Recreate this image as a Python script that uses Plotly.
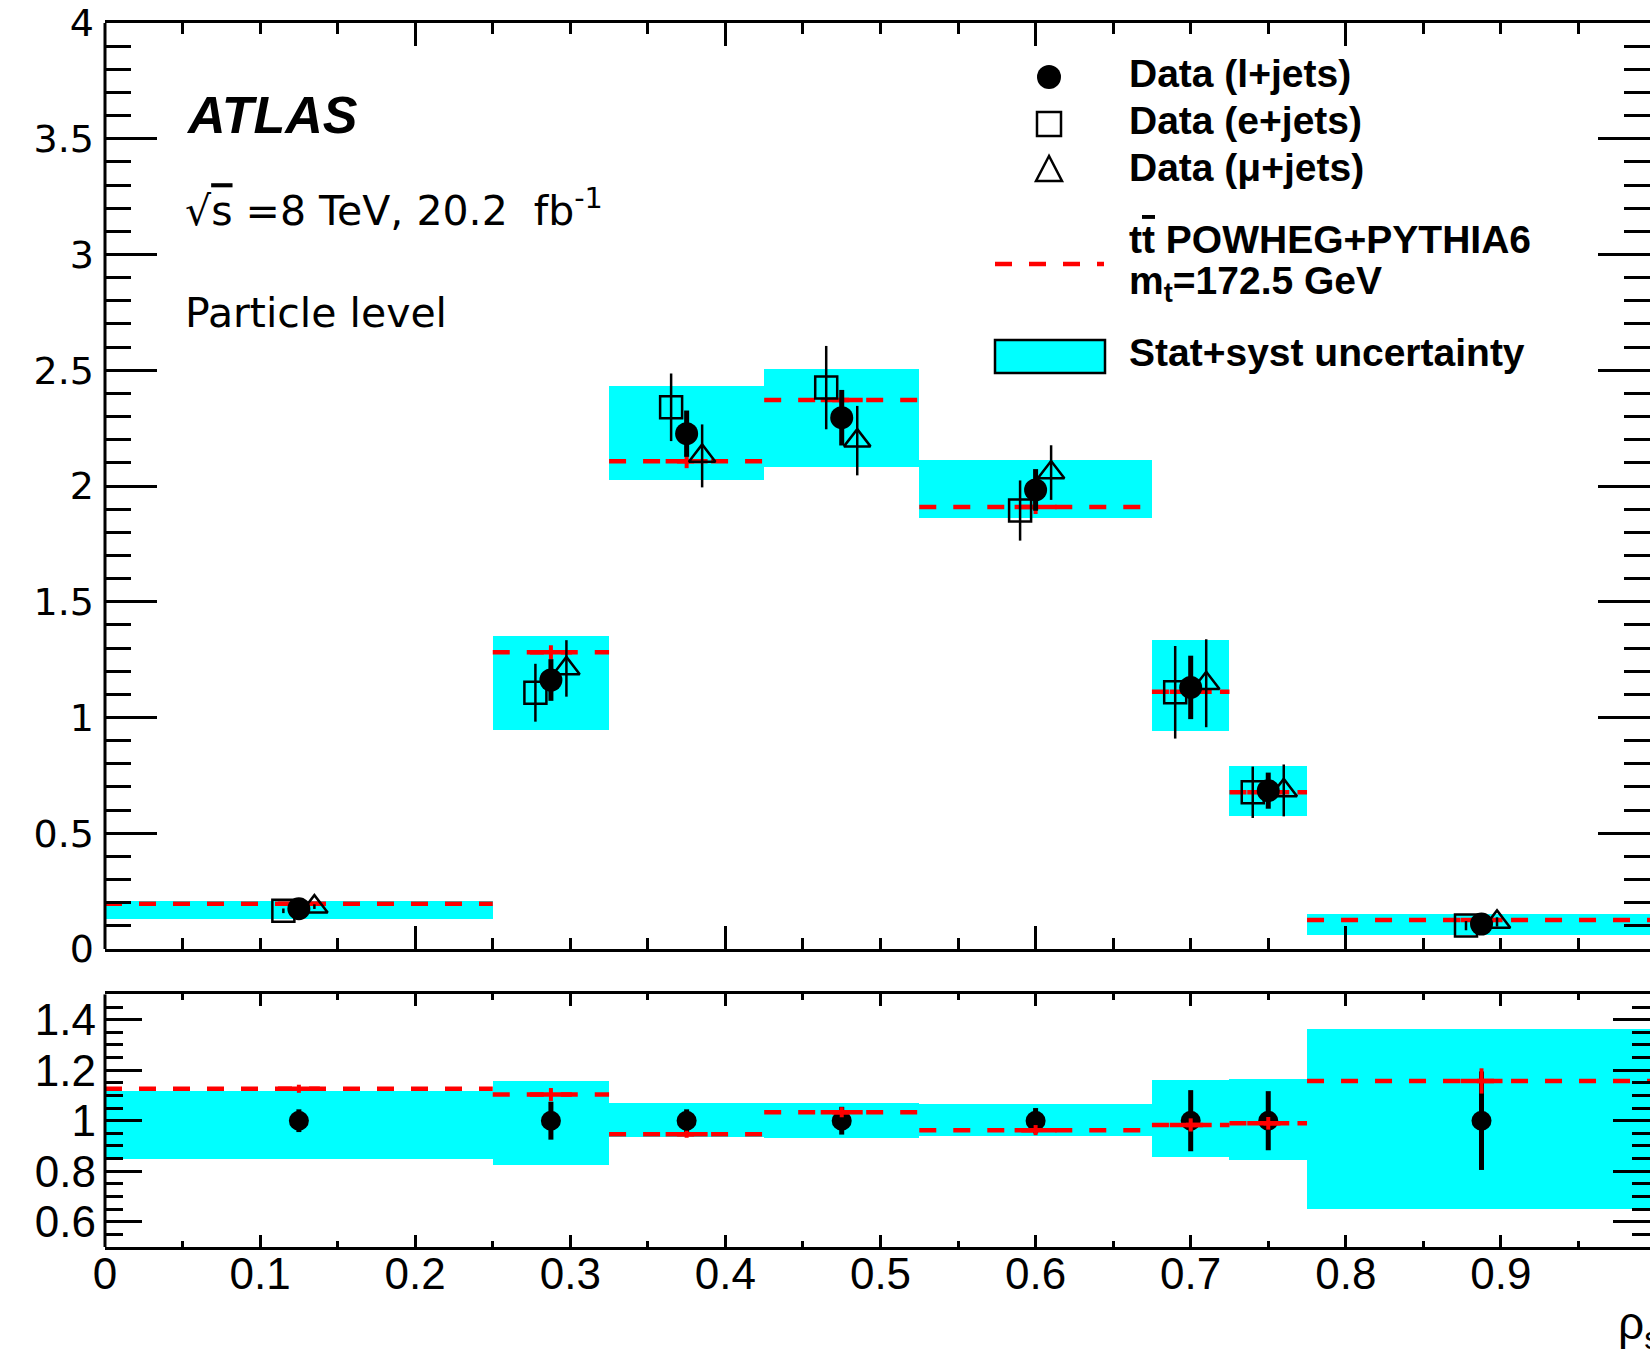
import plotly.graph_objects as go

# ---- binning in rho_s ----
bin_edges = [0.0, 0.25, 0.325, 0.425, 0.525, 0.675, 0.725, 0.775, 1.0]

# ---- normalised cross-section, particle level ----
ljets = [0.174, 1.162, 2.226, 2.295, 1.983, 1.130, 0.684, 0.108]
ljets_err = [0.010, 0.090, 0.100, 0.120, 0.090, 0.137, 0.078, 0.020]
ejets = [0.165, 1.107, 2.340, 2.425, 1.894, 1.109, 0.677, 0.101]
ejets_err = [0.010, 0.125, 0.146, 0.180, 0.130, 0.200, 0.111, 0.020]
mujets = [0.183, 1.212, 2.130, 2.196, 2.058, 1.148, 0.685, 0.117]
mujets_err = [0.010, 0.122, 0.136, 0.150, 0.118, 0.190, 0.112, 0.020]
powheg = [0.196, 1.282, 2.107, 2.372, 1.909, 1.111, 0.677, 0.125]
powheg_err = [0.003, 0.030, 0.030, 0.030, 0.030, 0.020, 0.010, 0.005]
band_lo = [0.130, 0.946, 2.025, 2.084, 1.862, 0.942, 0.576, 0.062]
band_hi = [0.209, 1.352, 2.430, 2.507, 2.112, 1.335, 0.792, 0.152]

# ---- ratio panel (prediction / data) ----
ratio_err = [0.045, 0.075, 0.045, 0.055, 0.050, 0.121, 0.117, 0.195]
ratio_powheg_err = [0.016, 0.026, 0.014, 0.020, 0.020, 0.026, 0.025, 0.050]
ratio_band_lo = [0.845, 0.822, 0.933, 0.929, 0.937, 0.855, 0.841, 0.647]
ratio_band_hi = [1.116, 1.154, 1.067, 1.068, 1.063, 1.158, 1.163, 1.362]

channel_shift = 0.01

top_ticks = [0, 0.5, 1, 1.5, 2, 2.5, 3, 3.5, 4]
ratio_ticks = [0.6, 0.8, 1.0, 1.2, 1.4]
ratio_ticktext = ["0.6", "0.8", "1", "1.2", "1.4"]

# ---- derived quantities ----
centers = [(a + b) / 2 for a, b in zip(bin_edges[:-1], bin_edges[1:])]
widths = [b - a for a, b in zip(bin_edges[:-1], bin_edges[1:])]
x_e = [c - channel_shift for c in centers]
x_mu = [c + channel_shift for c in centers]
ratio_data = [v / v for v in ljets]
ratio_powheg = [m / d for m, d in zip(powheg, ljets)]


def step_segments(values):
    xs, ys = [], []
    for a, b, v in zip(bin_edges[:-1], bin_edges[1:], values):
        xs += [a, b, None]
        ys += [v, v, None]
    return xs, ys


# ---- page geometry ----
W, H = 1650, 1361
ML, MR, MT, MB = 105, 0, 23, 114
PW, PH = W - ML - MR, H - MT - MB
X_MAX = PW / 1551.0
TOP_DOMAIN = [(H - MB - 949) / PH, 1.0]
BOT_DOMAIN = [0.0, (H - MB - 994.4) / PH]


def fx(px):
    return (px - ML) / PW


def fy(py):
    return (H - MB - py) / PH


CYAN = "#00FFFF"
RED = "#FF0000"
SANS = "Liberation Sans, Arial, sans-serif"
WIDE = "DejaVu Sans, sans-serif"
DASH = "17px,17px"

fig = go.Figure()

# ---------------- upper panel ----------------
fig.add_trace(go.Bar(
    x=centers, y=[h - l for h, l in zip(band_hi, band_lo)], base=band_lo,
    width=widths, marker=dict(color=CYAN, line=dict(width=0)),
    xaxis="x", yaxis="y"))

mx, my = step_segments(powheg)
fig.add_trace(go.Scatter(
    x=mx, y=my, mode="lines", line=dict(color=RED, width=4.5, dash=DASH),
    connectgaps=False, xaxis="x", yaxis="y"))
fig.add_trace(go.Scatter(
    x=centers, y=powheg, mode="markers",
    marker=dict(symbol="line-ew", size=30, color=RED, line=dict(width=4.5, color=RED)),
    error_y=dict(type="data", array=powheg_err, thickness=4, width=0, color=RED),
    xaxis="x", yaxis="y"))

fig.add_trace(go.Scatter(
    x=x_e, y=ejets, mode="markers",
    marker=dict(symbol="square-open", size=22, color="black", line=dict(width=2.5)),
    error_y=dict(type="data", array=ejets_err, thickness=2.5, width=0, color="black"),
    xaxis="x", yaxis="y"))
fig.add_trace(go.Scatter(
    x=x_mu, y=mujets, mode="markers",
    marker=dict(symbol="triangle-up-open", size=23, color="black", line=dict(width=2.5)),
    error_y=dict(type="data", array=mujets_err, thickness=2.5, width=0, color="black"),
    xaxis="x", yaxis="y"))
fig.add_trace(go.Scatter(
    x=centers, y=ljets, mode="markers",
    marker=dict(symbol="circle", size=23, color="black"),
    error_y=dict(type="data", array=ljets_err, thickness=5, width=0, color="black"),
    xaxis="x", yaxis="y"))

# ---------------- ratio panel ----------------
fig.add_trace(go.Bar(
    x=centers, y=[h - l for h, l in zip(ratio_band_hi, ratio_band_lo)], base=ratio_band_lo,
    width=widths, marker=dict(color=CYAN, line=dict(width=0)),
    xaxis="x2", yaxis="y2"))
fig.add_trace(go.Scatter(
    x=centers, y=ratio_data, mode="markers",
    marker=dict(symbol="circle", size=20, color="black"),
    error_y=dict(type="data", array=ratio_err, thickness=5, width=0, color="black"),
    xaxis="x2", yaxis="y2"))
rx, ry = step_segments(ratio_powheg)
fig.add_trace(go.Scatter(
    x=rx, y=ry, mode="lines", line=dict(color=RED, width=4.5, dash=DASH),
    connectgaps=False, xaxis="x2", yaxis="y2"))
fig.add_trace(go.Scatter(
    x=centers, y=ratio_powheg, mode="markers",
    marker=dict(symbol="line-ew", size=30, color=RED, line=dict(width=4.5, color=RED)),
    error_y=dict(type="data", array=ratio_powheg_err, thickness=4, width=0, color=RED),
    xaxis="x2", yaxis="y2"))

# ---------------- axes ----------------
tick_common = dict(ticks="inside", tickcolor="black", tickwidth=3,
                   showgrid=False, zeroline=False)

fig.update_layout(
    xaxis=dict(domain=[0, 1], anchor="y", range=[0, X_MAX], tickmode="linear",
               tick0=0, dtick=0.2, ticklen=23, showticklabels=False,
               showline=True, linewidth=3, linecolor="black", mirror="ticks",
               minor=dict(tickmode="linear", tick0=0, dtick=0.05, ticklen=11,
                          tickwidth=3, tickcolor="black", ticks="inside"),
               **tick_common),
    yaxis=dict(domain=TOP_DOMAIN, anchor="x", range=[0, 4], tickmode="array",
               tickvals=top_ticks, ticktext=[f"{v:g}" for v in top_ticks],
               ticklen=52, showline=False, mirror="ticks",
               tickfont=dict(family=WIDE, size=38, color="black"),
               ticklabelstandoff=10,
               minor=dict(tickmode="linear", tick0=0, dtick=0.1, ticklen=26,
                          tickwidth=3, tickcolor="black", ticks="inside"),
               **tick_common),
    xaxis2=dict(domain=[0, 1], anchor="y2", range=[0, X_MAX], tickmode="linear",
                tick0=0, dtick=0.1, ticklen=12, showticklabels=True,
                tickfont=dict(family=SANS, size=44, color="black"),
                ticklabelstandoff=-14,
                showline=True, linewidth=3, linecolor="black", mirror="ticks",
                minor=dict(tickmode="linear", tick0=0, dtick=0.05, ticklen=6,
                           tickwidth=3, tickcolor="black", ticks="inside"),
                **tick_common),
    yaxis2=dict(domain=BOT_DOMAIN, anchor="x2", range=[0.5, 1.5], tickmode="array",
                tickvals=ratio_ticks, ticktext=ratio_ticktext,
                ticklen=37, showline=False, mirror="ticks",
                tickfont=dict(family=SANS, size=44, color="black"),
                ticklabelstandoff=8,
                minor=dict(tickmode="linear", tick0=0.5, dtick=0.05, ticklen=18,
                           tickwidth=3, tickcolor="black", ticks="inside"),
                **tick_common),
)

shapes = [
    # left frame of each panel
    dict(type="line", xref="paper", yref="y domain", x0=0, x1=0, y0=0, y1=1,
         line=dict(color="black", width=3)),
    dict(type="line", xref="paper", yref="y2 domain", x0=0, x1=0, y0=0, y1=1,
         line=dict(color="black", width=3)),
]

# ---------------- legend ----------------
LEG_X = 1049
shapes += [
    dict(type="circle", xref="paper", yref="paper",
         x0=fx(LEG_X - 12), x1=fx(LEG_X + 12), y0=fy(77 + 12), y1=fy(77 - 12),
         fillcolor="black", line=dict(width=0)),
    dict(type="rect", xref="paper", yref="paper",
         x0=fx(LEG_X - 12), x1=fx(LEG_X + 12), y0=fy(124 + 12), y1=fy(124 - 12),
         line=dict(color="black", width=2.5)),
    dict(type="path", xref="paper", yref="paper",
         path=(f"M {fx(LEG_X)},{fy(156)} L {fx(LEG_X - 13)},{fy(181)} "
               f"L {fx(LEG_X + 13)},{fy(181)} Z"),
         line=dict(color="black", width=2.5)),
    dict(type="line", xref="paper", yref="paper",
         x0=fx(995), x1=fx(1104), y0=fy(264), y1=fy(264),
         line=dict(color=RED, width=4.5, dash=DASH)),
    dict(type="rect", xref="paper", yref="paper",
         x0=fx(995), x1=fx(1105), y0=fy(373), y1=fy(340),
         fillcolor=CYAN, line=dict(color="black", width=2.5)),
]

OVER = '<span style="text-decoration:overline">{}</span>'
legend_rows = [
    ("Data (l+jets)", 74),
    ("Data (e+jets)", 120),
    ("Data (\u03bc+jets)", 167),
    ("t" + OVER.format("t") + " POWHEG+PYTHIA6", 239),
    ("m<sub>t</sub>=172.5 GeV", 283),
    ("Stat+syst uncertainty", 352),
]

annotations = []
for text, ypx in legend_rows:
    annotations.append(dict(
        text=f"<b>{text}</b>", xref="paper", yref="paper", x=fx(1127), y=fy(ypx),
        xanchor="left", yanchor="middle", showarrow=False,
        font=dict(family=SANS, size=39, color="black")))

annotations += [
    dict(text="<b><i>ATLAS</i></b>", xref="paper", yref="paper",
         x=fx(184), y=fy(115), xanchor="left", yanchor="middle", showarrow=False,
         font=dict(family=SANS, size=52, color="black")),
    dict(text="\u221a" + OVER.format("s") + " =8 TeV, 20.2\u00a0\u00a0fb<sup>-1</sup>",
         xref="paper", yref="paper",
         x=fx(183), y=fy(208), xanchor="left", yanchor="middle", showarrow=False,
         font=dict(family=WIDE, size=41, color="black")),
    dict(text="Particle level", xref="paper", yref="paper",
         x=fx(183), y=fy(313), xanchor="left", yanchor="middle", showarrow=False,
         font=dict(family=WIDE, size=41, color="black")),
    dict(text="\u03c1<sub>s</sub>", xref="paper", yref="paper",
         x=fx(1616), y=fy(1326), xanchor="left", yanchor="middle", showarrow=False,
         font=dict(family=SANS, size=46, color="black")),
]

fig.update_layout(
    width=W, height=H,
    margin=dict(l=ML, r=MR, t=MT, b=MB, pad=0),
    paper_bgcolor="white", plot_bgcolor="white",
    showlegend=False, barmode="overlay", bargap=0,
    shapes=shapes, annotations=annotations,
)

fig.write_html("out.html")
